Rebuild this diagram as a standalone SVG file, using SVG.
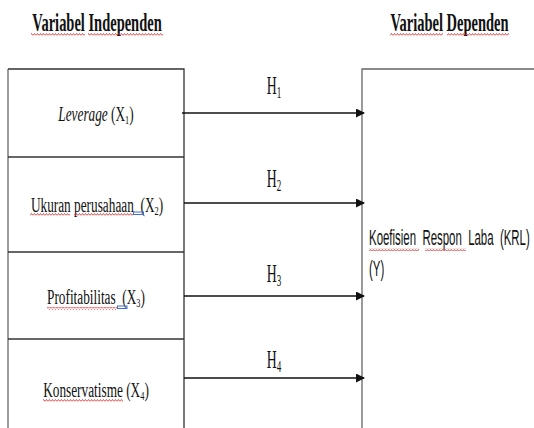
<svg xmlns="http://www.w3.org/2000/svg" width="534" height="428" viewBox="0 0 534 428">
  <style>
    .ttl { font-family: "Liberation Serif", serif; font-weight: bold; font-size: 23px; fill: #111; }
    .lbl { font-family: "Liberation Serif", serif; font-size: 19px; fill: #111; }
    .hyp { font-family: "Liberation Serif", serif; font-size: 23px; fill: #111; }
    .dep { font-family: "Liberation Sans", sans-serif; font-size: 21px; fill: #111; white-space: pre; }
    .box { fill: none; stroke: #333; stroke-width: 1.3; }
    .edge { fill: none; stroke: #666; stroke-width: 1.3; }
    .conn { stroke: #111; stroke-width: 1.4; fill: none; marker-end: url(#arrow); }
    .wavy { fill: url(#squiggle); }
    .gap { fill: none; stroke: #3b6fd6; stroke-width: 1; }
  </style>
  <defs>
    <marker id="arrow" markerWidth="9" markerHeight="9" refX="8" refY="4.5" orient="auto" markerUnits="userSpaceOnUse">
      <path d="M0 0 L9 4.5 L0 9 Z" fill="#111"/>
    </marker>
    <pattern id="squiggle" width="3" height="3" patternUnits="userSpaceOnUse">
      <path d="M0 2.5 L1.5 0.5 L3 2.5" stroke="#e02020" stroke-width="0.8" fill="none"/>
    </pattern>
  </defs>

  <!-- column headings -->
  <g id="heading-independent">
    <text class="ttl" text-anchor="middle" transform="translate(97 31) scale(0.63 1.12)">Variabel Independen</text>
    <rect class="wavy" x="31" y="33" width="54" height="3"/>
    <rect class="wavy" x="88" y="33" width="75" height="3"/>
  </g>
  <g id="heading-dependent">
    <text class="ttl" text-anchor="middle" transform="translate(449.5 31) scale(0.63 1.12)">Variabel Dependen</text>
    <rect class="wavy" x="390" y="33" width="53" height="3"/>
    <rect class="wavy" x="447" y="33" width="62" height="3"/>
  </g>

  <!-- independent variable column -->
  <g id="independent-frame">
    <path class="edge" d="M8 69 V428"/>
    <path class="box" d="M8 69 H184 V428"/>
  </g>
  <g id="x1">
    <text class="lbl" text-anchor="middle" transform="translate(96 121) scale(0.7 1.05)"><tspan font-style="italic">Leverage</tspan> (X<tspan font-size="12" dy="3">1</tspan><tspan dy="-3">)</tspan></text>
  </g>
  <g id="x2">
    <path class="box" d="M8 157 H184"/>
    <text class="lbl" text-anchor="middle" transform="translate(97 212) scale(0.7 1.05)" style="white-space:pre">Ukuran perusahaan  (X<tspan font-size="12" dy="3">2</tspan><tspan dy="-3">)</tspan></text>
    <rect class="wavy" x="30" y="213" width="40" height="3"/>
    <rect class="wavy" x="74" y="213" width="59" height="3"/>
    <rect class="gap" x="133.5" y="212" width="10" height="2.5"/>
  </g>
  <g id="x3">
    <path class="box" d="M8 252 H184"/>
    <text class="lbl" text-anchor="middle" transform="translate(96 304) scale(0.7 1.05)" style="white-space:pre">Profitabilitas  (X<tspan font-size="12" dy="3">3</tspan><tspan dy="-3">)</tspan></text>
    <rect class="wavy" x="47" y="307" width="70" height="3"/>
    <rect class="gap" x="117.5" y="306" width="9.5" height="2.5"/>
  </g>
  <g id="x4">
    <path class="box" d="M8 339 H184"/>
    <text class="lbl" text-anchor="middle" transform="translate(96 397) scale(0.7 1.05)">Konservatisme (X<tspan font-size="12" dy="3">4</tspan><tspan dy="-3">)</tspan></text>
    <rect class="wavy" x="43" y="399" width="80" height="3"/>
  </g>

  <!-- dependent variable column -->
  <g id="y">
    <path class="edge" d="M362 428 V69 H534"/>
    <text class="dep" transform="translate(369 245) scale(0.545 1.05)">Koefisien  Respon  Laba  (KRL)</text>
    <text class="dep" transform="translate(369 276) scale(0.545 1.05)">(Y)</text>
    <rect class="wavy" x="369" y="248" width="50" height="3"/>
    <rect class="wavy" x="425" y="248" width="41" height="3"/>
  </g>

  <!-- hypothesis connectors -->
  <g id="connectors">
    <path class="conn" d="M182 113 H364"/>
    <path class="conn" d="M184 203 H364"/>
    <path class="conn" d="M184 296 H364"/>
    <path class="conn" d="M184 378 H364"/>
    <text class="hyp" text-anchor="middle" transform="translate(274 94) scale(0.6 1.1)">H<tspan font-size="15" dy="4">1</tspan></text>
    <text class="hyp" text-anchor="middle" transform="translate(274 187) scale(0.6 1.1)">H<tspan font-size="15" dy="4">2</tspan></text>
    <text class="hyp" text-anchor="middle" transform="translate(274 282) scale(0.6 1.1)">H<tspan font-size="15" dy="4">3</tspan></text>
    <text class="hyp" text-anchor="middle" transform="translate(274 368) scale(0.6 1.1)">H<tspan font-size="15" dy="4">4</tspan></text>
  </g>
</svg>
